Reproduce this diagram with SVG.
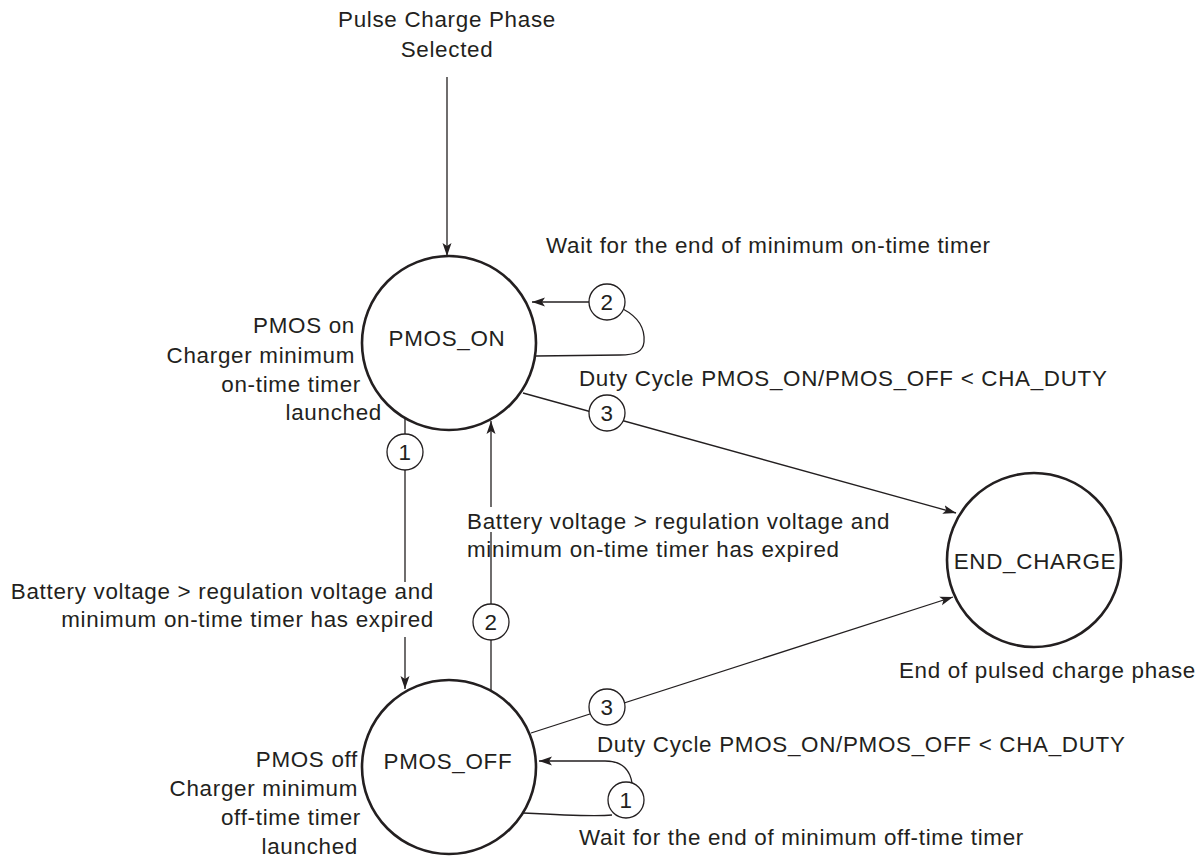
<svg xmlns="http://www.w3.org/2000/svg" width="1200" height="860" viewBox="0 0 1200 860">
<style>
text{font-family:"Liberation Sans",Arial,sans-serif;font-size:22.4px;letter-spacing:0.7px;fill:#231f20}
.state{fill:#fff;stroke:#231f20;stroke-width:2.6}
.lbl{fill:#fff;stroke:#231f20;stroke-width:1.3}
.c{fill:none;stroke:#231f20;stroke-width:1.3}
.m{text-anchor:middle}
.e{text-anchor:end}
</style>
<defs>
<marker id="ah" markerUnits="userSpaceOnUse" markerWidth="14" markerHeight="10" refX="13" refY="5" orient="auto">
<path d="M0,0.5 L13,5 L0,9.5 L3,5 Z" fill="#231f20"/>
</marker>
</defs>
<rect width="1200" height="860" fill="#fff"/>
<g id="connectors">
<line class="c" x1="447" y1="77" x2="447" y2="256" marker-end="url(#ah)"/>
<line class="c" x1="589" y1="302" x2="532" y2="302" marker-end="url(#ah)"/>
<path class="c" d="M623,309 C640,318 645,330 644,342 C643,352 635,355 620,355 L536,356"/>
<path class="c" d="M523,393 L956,513" marker-end="url(#ah)"/>
<line class="c" x1="405" y1="419" x2="405" y2="582"/>
<line class="c" x1="405" y1="637" x2="405" y2="689" marker-end="url(#ah)"/>
<line class="c" x1="491" y1="507" x2="491" y2="421" marker-end="url(#ah)"/>
<line class="c" x1="491" y1="691" x2="491" y2="532"/>
<path class="c" d="M531,733 L953,597" marker-end="url(#ah)"/>
<path class="c" d="M632,783 C630,770 622,761 605,761 L539,761" marker-end="url(#ah)"/>
<path class="c" d="M612,815 C600,816 560,815 523,813"/>
</g>
<g id="label-on-2"><circle class="lbl" cx="607" cy="302" r="18"/><text class="m" x="607" y="310">2</text></g>
<g id="label-on-3"><circle class="lbl" cx="607" cy="413" r="18"/><text class="m" x="607" y="421">3</text></g>
<g id="label-1"><circle class="lbl" cx="405" cy="452" r="18"/><text class="m" x="405" y="460">1</text></g>
<g id="label-2"><circle class="lbl" cx="491" cy="622" r="18"/><text class="m" x="491" y="630">2</text></g>
<g id="label-off-3"><circle class="lbl" cx="607" cy="707" r="18"/><text class="m" x="607" y="715">3</text></g>
<g id="label-off-1"><circle class="lbl" cx="626" cy="800" r="18"/><text class="m" x="626" y="808">1</text></g>
<g id="PMOS_ON">
<circle class="state" cx="449" cy="343" r="87"/>
<text class="m" x="447" y="346">PMOS_ON</text>
</g>
<g id="PMOS_OFF">
<circle class="state" cx="449" cy="767" r="87"/>
<text class="m" x="448" y="769">PMOS_OFF</text>
</g>
<g id="END_CHARGE">
<circle class="state" cx="1034" cy="560" r="87"/>
<text class="m" x="1035" y="569">END_CHARGE</text>
</g>
<g id="texts">
<text class="m" x="447" y="27">Pulse Charge Phase</text>
<text class="m" x="447" y="57">Selected</text>
<text x="546" y="253">Wait for the end of minimum on-time timer</text>
<text class="e" x="355" y="333">PMOS on</text>
<text class="e" x="355" y="363">Charger minimum</text>
<text class="e" x="361" y="392">on-time timer</text>
<text class="e" x="382" y="420">launched</text>
<text x="579" y="386">Duty Cycle PMOS_ON/PMOS_OFF &lt; CHA_DUTY</text>
<text x="467" y="529">Battery voltage &gt; regulation voltage and</text>
<text x="467" y="557">minimum on-time timer has expired</text>
<text class="e" x="434" y="599">Battery voltage &gt; regulation voltage and</text>
<text class="e" x="434" y="627">minimum on-time timer has expired</text>
<text class="e" x="1196" y="678">End of pulsed charge phase</text>
<text x="597" y="752">Duty Cycle PMOS_ON/PMOS_OFF &lt; CHA_DUTY</text>
<text class="e" x="358" y="767">PMOS off</text>
<text class="e" x="358" y="796">Charger minimum</text>
<text class="e" x="361" y="825">off-time timer</text>
<text class="e" x="358" y="854">launched</text>
<text x="579" y="845">Wait for the end of minimum off-time timer</text>
</g>
</svg>
